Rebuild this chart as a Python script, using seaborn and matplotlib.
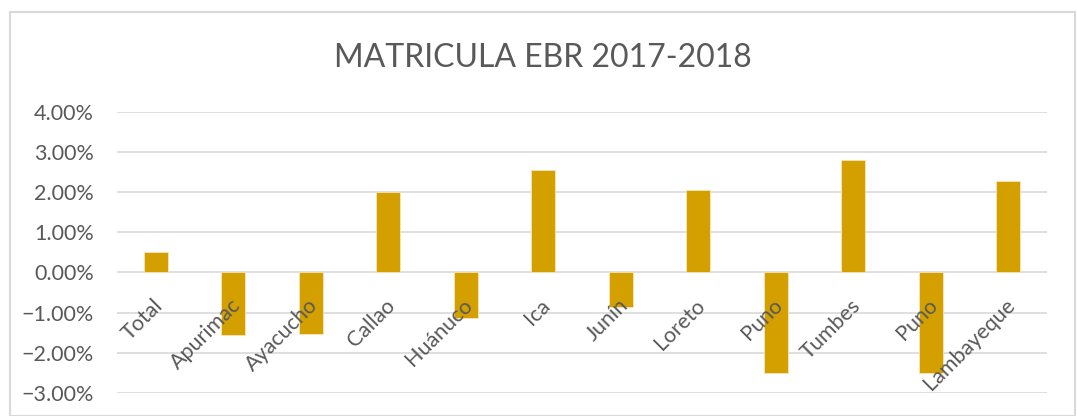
import matplotlib
matplotlib.use("Agg")
import matplotlib.pyplot as plt
from matplotlib.transforms import ScaledTranslation
from matplotlib.ticker import PercentFormatter
import pandas as pd
import seaborn as sns

# Chart data
regions = ["Total", "Apurimac", "Ayacucho", "Callao", "Huánuco", "Ica",
           "Junín", "Loreto", "Puno", "Tumbes", "Puno", "Lambayeque"]
change_pct = [0.51, -1.55, -1.52, 1.99, -1.14, 2.54,
              -0.85, 2.06, -2.51, 2.79, -2.51, 2.28]
y_ticks = [-3, -2, -1, 0, 1, 2, 3, 4]

TEXT = "#595959"
GRID = "#D9D9D9"
BAR = "#D4A000"

sns.set_theme(style="white")
plt.rcParams["font.family"] = ["Lato", "DejaVu Sans"]

# positions keep the two "Puno" bars apart
df = pd.DataFrame({"pos": range(len(regions)), "value": change_pct})

fig = plt.figure(figsize=(10.77, 4.16), dpi=100)
ax = fig.add_axes([0.1086, 0.0553, 0.8635, 0.6762])

sns.barplot(data=df, x="pos", y="value", color=BAR, saturation=1,
            width=0.31, ax=ax, edgecolor="#F5E6B8", linewidth=0.6)

ax.set_ylim(-3, 4)
ax.set_xlim(-0.5, len(regions) - 0.5)
ax.set_yticks(y_ticks)
ax.yaxis.set_major_formatter(PercentFormatter(decimals=2))
ax.grid(axis="y", color=GRID, linewidth=1.2)
ax.set_axisbelow(True)
for s in ax.spines.values():
    s.set_visible(False)
ax.set_xticks([])
ax.set_xlabel("")
ax.set_ylabel("")
ax.tick_params(axis="y", length=0, pad=16.5, labelsize=15.5, labelcolor=TEXT)

# category labels hang just below the zero line, rotated like Excel does
off = ScaledTranslation(0.04, -0.30, fig.dpi_scale_trans)
for i, name in enumerate(regions):
    ax.text(i, 0, name, transform=ax.transData + off, rotation=45,
            rotation_mode="anchor", ha="right", va="center",
            fontsize=15.5, color=TEXT)

fig.text(0.504, 0.86, "MATRICULA EBR 2017-2018", ha="center", va="center",
         fontsize=23, color=TEXT)

# light chart-area border
border = plt.Rectangle((10 / 1077, 0), (1075 - 10) / 1077, 1 - 12 / 416,
                       transform=fig.transFigure, fill=False,
                       edgecolor=GRID, linewidth=1.5)
fig.patches.append(border)

fig.savefig("out.png", dpi=100)
